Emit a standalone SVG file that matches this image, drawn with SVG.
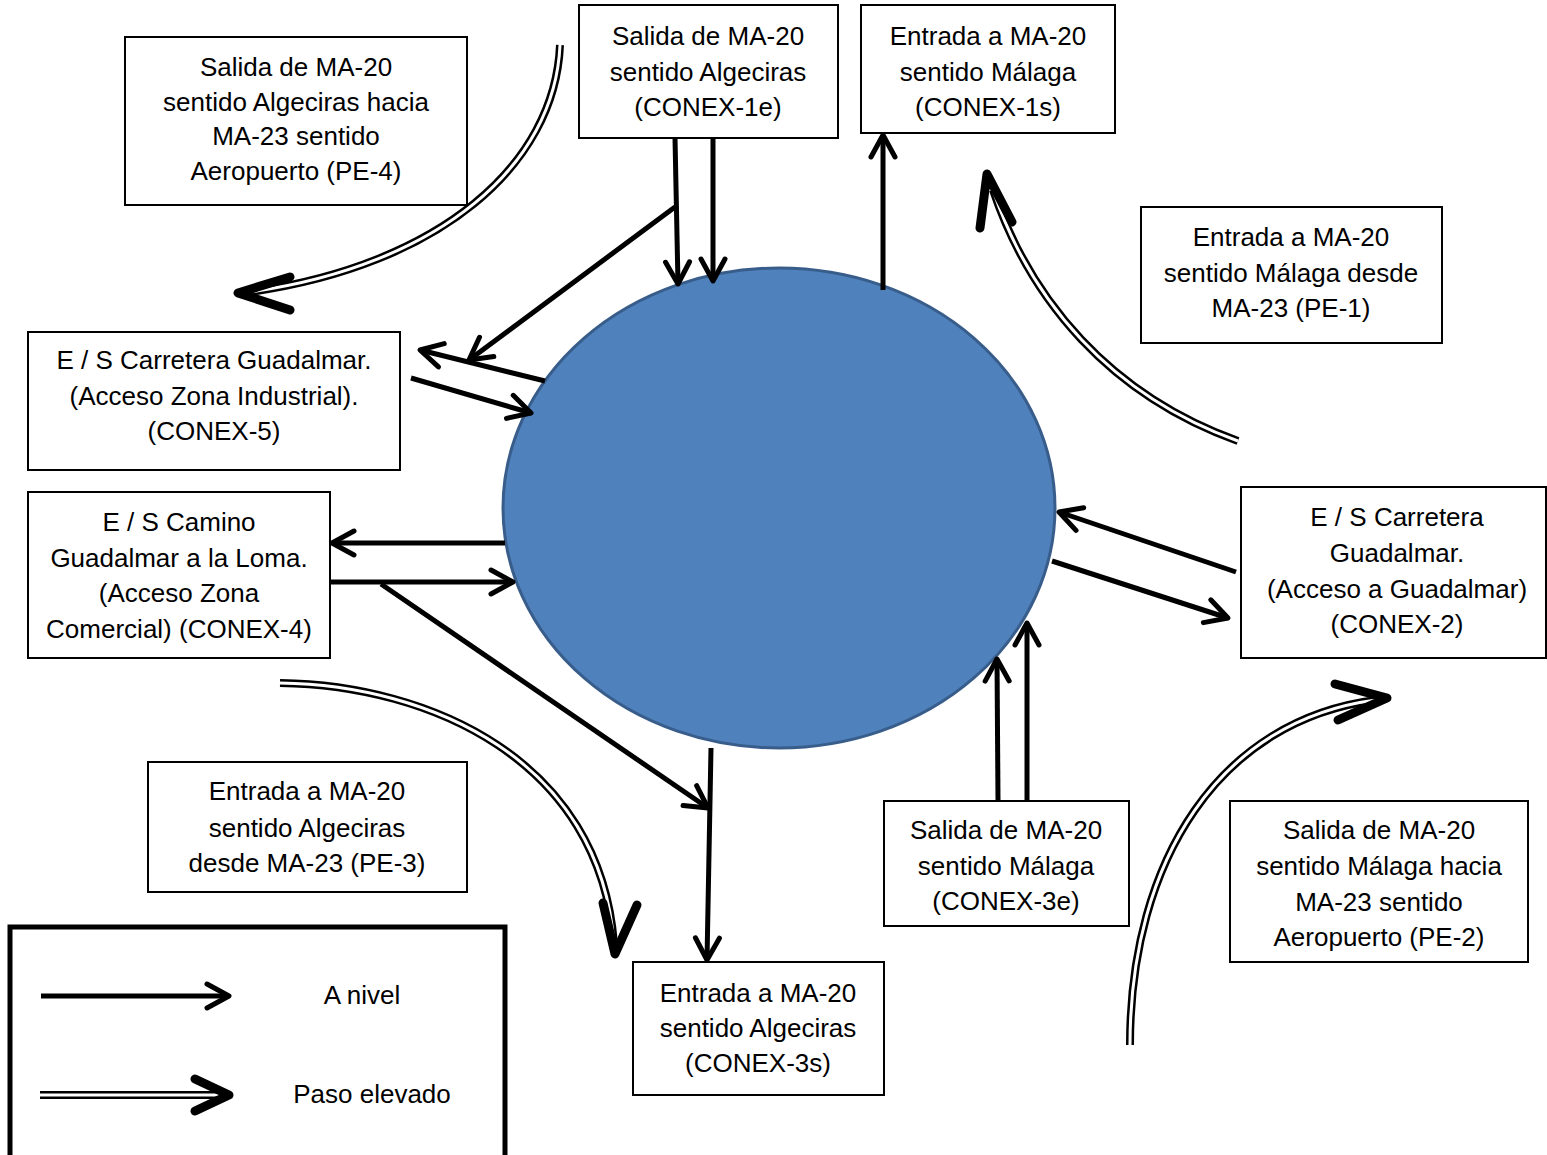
<svg xmlns="http://www.w3.org/2000/svg" width="1547" height="1155" viewBox="0 0 1547 1155">
<style>
.box{fill:#fff;stroke:#000;stroke-width:2}
.t{font-family:"Liberation Sans",Arial,sans-serif;font-size:26px;fill:#000;text-anchor:middle}
.ln{fill:none;stroke:#000;stroke-width:5;marker-end:url(#ah)}
.dO{fill:none;stroke:#000;stroke-width:8}
.dI{fill:none;stroke:#fff;stroke-width:3}
.chev{fill:none;stroke:#000;stroke-width:9;stroke-linecap:round;stroke-linejoin:round}
</style>
<defs>
<marker id="ah" markerUnits="userSpaceOnUse" viewBox="0 0 30 30" markerWidth="30" markerHeight="30" refX="26" refY="15" orient="auto" overflow="visible">
<path d="M4,3 L26,15 L4,27" fill="none" stroke="#000" stroke-width="5" stroke-linecap="round" stroke-linejoin="round"/>
</marker>
</defs>
<rect width="1547" height="1155" fill="#fff"/>

<g id="rotonda">
<ellipse cx="779" cy="508" rx="276" ry="240" fill="#4F81BD" stroke="#385D8A" stroke-width="3"/>
</g>

<g id="connectors">
<line class="ln" x1="675" y1="138" x2="678" y2="284"/>
<line class="ln" x1="713" y1="138" x2="713" y2="281"/>
<line class="ln" x1="675" y1="207" x2="469" y2="360"/>
<line class="ln" x1="545" y1="381" x2="420" y2="350"/>
<line class="ln" x1="411" y1="378" x2="531" y2="413"/>
<line class="ln" x1="505" y1="543" x2="332" y2="543"/>
<line class="ln" x1="330" y1="582" x2="513" y2="582"/>
<line class="ln" x1="381" y1="584" x2="708" y2="808"/>
<line class="ln" x1="711" y1="748" x2="707" y2="960"/>
<line class="ln" x1="883" y1="290" x2="883" y2="135"/>
<line class="ln" x1="1236" y1="572" x2="1059" y2="512"/>
<line class="ln" x1="1052" y1="561" x2="1228" y2="618"/>
<line class="ln" x1="998" y1="800" x2="997" y2="659"/>
<line class="ln" x1="1027" y1="800" x2="1027" y2="623"/>

<g id="pe4-arrow">
<path class="dO" d="M560,45 C555,165 440,265 250,292"/>
<path class="dI" d="M560,45 C555,165 440,265 250,292"/>
<polyline class="chev" points="290,277 238,293 290,310"/>
</g>
<g id="pe1-arrow">
<path class="dO" d="M1238,441 C1110,395 1030,300 993,190"/>
<path class="dI" d="M1238,441 C1110,395 1030,300 993,190"/>
<polyline class="chev" points="980,228 987,174 1012,222"/>
</g>
<g id="pe3-arrow">
<path class="dO" d="M280,683 C430,685 600,760 614,944"/>
<path class="dI" d="M280,683 C430,685 600,760 614,944"/>
<polyline class="chev" points="603,903 615,954 637,905"/>
</g>
<g id="pe2-arrow">
<path class="dO" d="M1130,1045 C1130,860 1220,720 1376,700"/>
<path class="dI" d="M1130,1045 C1130,860 1220,720 1376,700"/>
<polyline class="chev" points="1335,684 1387,698 1338,720"/>
</g>
</g>

<g id="pe4">
<rect class="box" x="125" y="37" width="342" height="168"/>
<text class="t" x="296" y="76">Salida de MA-20</text>
<text class="t" x="296" y="111">sentido Algeciras hacia</text>
<text class="t" x="296" y="145">MA-23 sentido</text>
<text class="t" x="296" y="180">Aeropuerto (PE-4)</text>
</g>

<g id="conex1e">
<rect class="box" x="579" y="5" width="259" height="133"/>
<text class="t" x="708" y="45">Salida de MA-20</text>
<text class="t" x="708" y="81">sentido Algeciras</text>
<text class="t" x="708" y="116">(CONEX-1e)</text>
</g>

<g id="conex1s">
<rect class="box" x="861" y="5" width="254" height="128"/>
<text class="t" x="988" y="45">Entrada a MA-20</text>
<text class="t" x="988" y="81">sentido Málaga</text>
<text class="t" x="988" y="116">(CONEX-1s)</text>
</g>

<g id="pe1">
<rect class="box" x="1141" y="207" width="301" height="136"/>
<text class="t" x="1291" y="246">Entrada a MA-20</text>
<text class="t" x="1291" y="282">sentido Málaga desde</text>
<text class="t" x="1291" y="317">MA-23 (PE-1)</text>
</g>

<g id="conex5">
<rect class="box" x="28" y="332" width="372" height="138"/>
<text class="t" x="214" y="369">E / S Carretera Guadalmar.</text>
<text class="t" x="214" y="405">(Acceso Zona Industrial).</text>
<text class="t" x="214" y="440">(CONEX-5)</text>
</g>

<g id="conex4">
<rect class="box" x="28" y="492" width="302" height="166"/>
<text class="t" x="179" y="531">E / S Camino</text>
<text class="t" x="179" y="567">Guadalmar a la Loma.</text>
<text class="t" x="179" y="602">(Acceso Zona</text>
<text class="t" x="179" y="638">Comercial) (CONEX-4)</text>
</g>

<g id="conex2">
<rect class="box" x="1241" y="487" width="305" height="171"/>
<text class="t" x="1397" y="526">E / S Carretera</text>
<text class="t" x="1397" y="562">Guadalmar.</text>
<text class="t" x="1397" y="598">(Acceso a Guadalmar)</text>
<text class="t" x="1397" y="633">(CONEX-2)</text>
</g>

<g id="pe3">
<rect class="box" x="148" y="762" width="319" height="130"/>
<text class="t" x="307" y="800">Entrada a MA-20</text>
<text class="t" x="307" y="837">sentido Algeciras</text>
<text class="t" x="307" y="872">desde MA-23 (PE-3)</text>
</g>

<g id="conex3e">
<rect class="box" x="884" y="801" width="245" height="125"/>
<text class="t" x="1006" y="839">Salida de MA-20</text>
<text class="t" x="1006" y="875">sentido Málaga</text>
<text class="t" x="1006" y="910">(CONEX-3e)</text>
</g>

<g id="pe2">
<rect class="box" x="1230" y="801" width="298" height="161"/>
<text class="t" x="1379" y="839">Salida de MA-20</text>
<text class="t" x="1379" y="875">sentido Málaga hacia</text>
<text class="t" x="1379" y="911">MA-23 sentido</text>
<text class="t" x="1379" y="946">Aeropuerto (PE-2)</text>
</g>

<g id="conex3s">
<rect class="box" x="633" y="962" width="251" height="133"/>
<text class="t" x="758" y="1002">Entrada a MA-20</text>
<text class="t" x="758" y="1037">sentido Algeciras</text>
<text class="t" x="758" y="1072">(CONEX-3s)</text>
</g>

<g id="legend">
<rect x="10" y="927" width="495" height="250" fill="#fff" stroke="#000" stroke-width="5"/>
<line class="ln" x1="41" y1="996" x2="229" y2="996"/>
<text class="t" x="362" y="1004">A nivel</text>
<path class="dO" d="M40,1095 L220,1095"/>
<path class="dI" d="M40,1095 L220,1095"/>
<polyline class="chev" points="195,1079 229,1095 195,1111"/>
<text class="t" x="372" y="1103">Paso elevado</text>
</g>
</svg>
